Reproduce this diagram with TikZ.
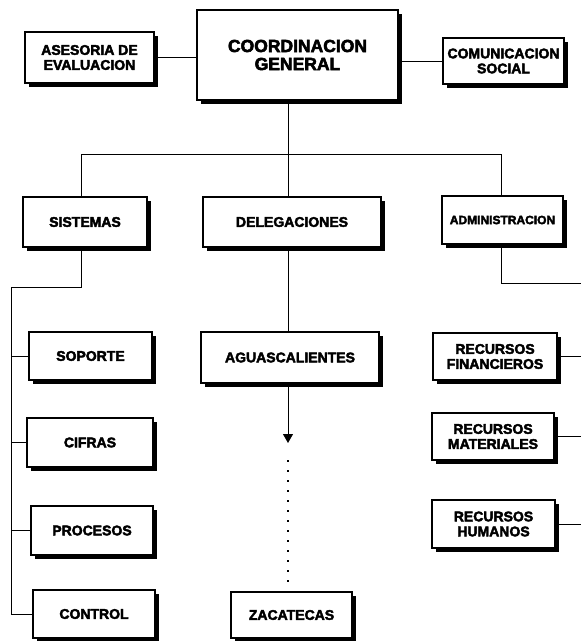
\documentclass[tikz,border=0pt]{standalone}
\usepackage{fontspec}
\setmainfont{Liberation Sans}[BoldFeatures={FakeBold=3}]
\usetikzlibrary{shadows,arrows.meta}
\begin{document}
\begin{tikzpicture}[x=1pt,y=-1pt,
  box/.style={draw, line width=1.1pt, fill=white, inner sep=0pt, align=center,
    font=\bfseries\fontsize{14}{15}\selectfont,
    general shadow={fill=black, shadow xshift=4pt, shadow yshift=-4pt}},
  sz/.style 2 args={minimum width=#1pt, minimum height=#2pt},
  conn/.style={line width=0.9pt},
]
\useasboundingbox (0,0) rectangle (581,641);

% top row
\node[box, sz={201}{90}, font=\bfseries\fontsize{17.5}{18}\selectfont] (coord) at (297.5,55) {COORDINACION\\GENERAL};
\node[box, sz={129}{51}] (ase) at (89.5,57.5) {ASESORIA DE\\EVALUACION};
\node[box, sz={121}{46}] (com) at (503.5,61) {COMUNICACION\\SOCIAL};

% second row
\node[box, sz={124}{50}] (sis) at (85,222) {SISTEMAS};
\node[box, sz={178}{50}] (del) at (292,222) {DELEGACIONES};
\node[box, sz={121}{48}, font=\bfseries\fontsize{12}{14}\selectfont] (adm) at (502.5,220) {ADMINISTRACION};

% sistemas column
\node[box, sz={123}{48}] (sop) at (90.5,356) {SOPORTE};
\node[box, sz={126}{49}] (cif) at (90,442.5) {CIFRAS};
\node[box, sz={122}{49}] (pro) at (92,530.5) {PROCESOS};
\node[box, sz={122}{48}] (ctl) at (94,614) {CONTROL};

% delegaciones column
\node[box, sz={178}{51}] (agu) at (290,357.5) {AGUASCALIENTES};
\node[box, sz={121}{46}] (zac) at (291.5,615) {ZACATECAS};

% administracion column
\node[box, sz={124}{47}] (rf) at (495,356.5) {RECURSOS\\FINANCIEROS};
\node[box, sz={122}{47}] (rm) at (493,436.5) {RECURSOS\\MATERIALES};
\node[box, sz={123}{48}] (rh) at (493.5,524) {RECURSOS\\HUMANOS};

% coordinates for routing
\coordinate (bus) at (288,154);
\coordinate (busL) at (81,154);
\coordinate (busR) at (501,154);
\coordinate (spL) at (11,287);
\coordinate (edgeR) at (581,283);
\coordinate (arrTip) at (288,443);
\coordinate (dotA) at (288,460);
\coordinate (dotB) at (288,585);

% connectors top
\draw[conn] (ase.east) -- (ase.east -| coord.west);
\draw[conn] (com.west) -- (com.west -| coord.east);
\draw[conn] (bus |- coord.south) -- (bus |- del.north);
\draw[conn] (busL |- sis.north) -- (busL) -- (busR) -- (busR |- adm.north);

% sistemas spine
\draw[conn] (busL |- sis.south) -- (busL |- spL) -- (spL) -- (spL |- ctl.west) -- (ctl.west);
\draw[conn] (spL |- sop.west) -- (sop.west);
\draw[conn] (spL |- cif.west) -- (cif.west);
\draw[conn] (spL |- pro.west) -- (pro.west);

% delegaciones
\draw[conn] (bus |- del.south) -- (bus |- agu.north);
\draw[conn, -{Triangle[width=10pt,length=9pt]}] (bus |- agu.south) -- (arrTip);
\draw[line width=1.4pt, dash pattern=on 1.5pt off 8.5pt] (dotA) -- (dotB);

% administracion
\draw[conn] (busR |- adm.south) -- (busR |- edgeR) -- (edgeR);
\draw[conn] (rf.east) -- (rf.east -| edgeR);
\draw[conn] (rm.east) -- (rm.east -| edgeR);
\draw[conn] (rh.east) -- (rh.east -| edgeR);
\end{tikzpicture}
\end{document}
